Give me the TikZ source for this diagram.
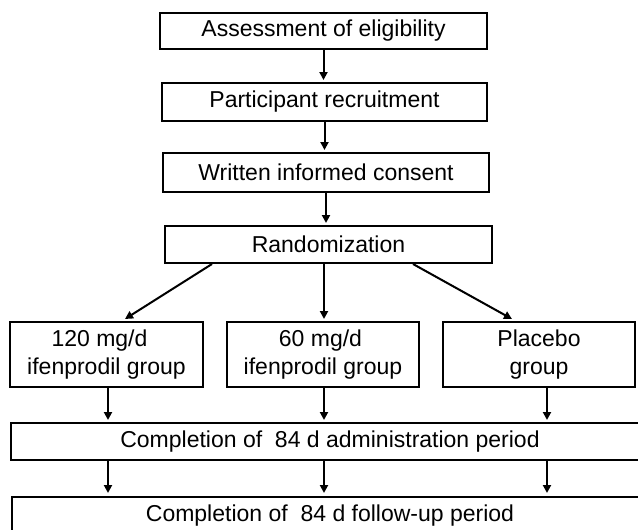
\documentclass[tikz,border=0pt]{standalone}
\usepackage{fontspec}
\setmainfont{Liberation Sans}
\usetikzlibrary{arrows.meta,calc}
\begin{document}
\begin{tikzpicture}[x=1pt,y=-1pt,
  box/.style={draw=black,line width=2pt,rectangle,inner sep=0pt,align=center,
    font=\fontsize{23}{28}\selectfont},
  arr/.style={line width=2pt,-{Triangle[length=8pt,width=8pt]}}]
\useasboundingbox (0,0) rectangle (638,530);
\fill[white] (0,0) rectangle (638,530);
\node[box,minimum width=327pt,minimum height=36pt] (b1) at (323.5,31) {Assessment of eligibility};
\node[box,minimum width=325pt,minimum height=38pt] (b2) at (324.5,102) {Participant recruitment};
\node[box,minimum width=326pt,minimum height=39pt] (b3) at (326,172.5) {Written informed consent};
\node[box,minimum width=327pt,minimum height=37pt] (b4) at (328.5,244.5) {Randomization};
\node[box,minimum width=193pt,minimum height=65pt] (gA) at (106.5,354.5) {120 mg/d\hspace*{14pt}\\ifenprodil group};
\node[box,minimum width=192pt,minimum height=65pt] (gB) at (323,354.5) {60 mg/d\hspace*{5pt}\\ifenprodil group};
\node[box,minimum width=192pt,minimum height=65pt] (gC) at (539,354.5) {Placebo\\group};
\node[box,minimum width=638pt,minimum height=37pt] (adm) at (330,441.5) {Completion of\ \ 84 d administration period};
\node[box,minimum width=636pt,minimum height=38pt] (fu) at (330,516) {Completion of\ \ 84 d follow-up period};
% top chain
\draw[arr] (b1.south) -- ($(b1.south |- b2.north)+(0,-2)$);
\draw[arr] (b2.south) -- ($(b2.south |- b3.north)+(0,-2)$);
\draw[arr] (b3.south) -- ($(b3.south |- b4.north)+(0,-2)$);
% randomization
\draw[arr] ($(b4.south west)+(48,0)$) -- ($(gA.north)+(18.5,-2)$);
\draw[arr] ($(b4.south)+(-4.5,0)$) -- ($(gB.north)+(1,-2)$);
\draw[arr] ($(b4.south east)+(-80,0)$) -- ($(gC.north)+(-27,-2)$);
% groups to administration
\draw[arr] ($(gA.south)+(1.5,0)$) -- ($(gA.south |- adm.north)+(1.5,-2)$);
\draw[arr] ($(gB.south)+(1,0)$) -- ($(gB.south |- adm.north)+(1,-2)$);
\draw[arr] ($(gC.south)+(8,0)$) -- ($(gC.south |- adm.north)+(8,-2)$);
% administration to follow-up
\draw[arr] ($(gA.south |- adm.south)+(1.5,0)$) -- ($(gA.south |- fu.north)+(1.5,-3)$);
\draw[arr] ($(gB.south |- adm.south)+(1,0)$) -- ($(gB.south |- fu.north)+(1,-3)$);
\draw[arr] ($(gC.south |- adm.south)+(8,0)$) -- ($(gC.south |- fu.north)+(8,-3)$);
\end{tikzpicture}
\end{document}
